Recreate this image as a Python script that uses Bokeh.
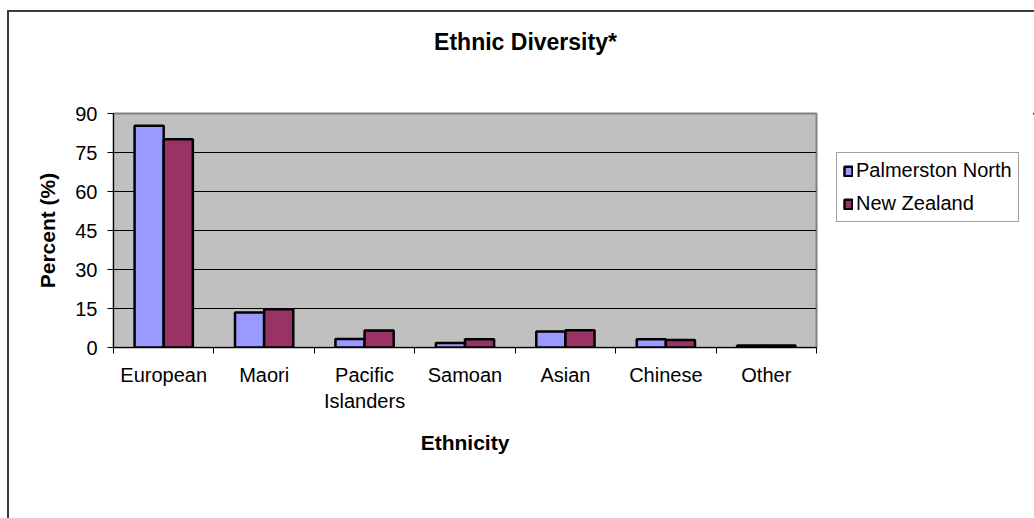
from bokeh.plotting import figure
from bokeh.layouts import column, row
from bokeh.models import (Range1d, FixedTicker, Legend, LegendItem, Label,
                          ColumnDataSource)
from bokeh.embed import file_html
from bokeh.resources import INLINE

# Census shares by ethnic group (percent of population)
categories = ["European", "Maori", "Pacific\nIslanders", "Samoan", "Asian", "Chinese", "Other"]
palmerston_north = [85.3, 13.5, 3.3, 1.7, 6.2, 3.2, 0.8]
new_zealand = [80.1, 14.7, 6.5, 3.2, 6.6, 2.9, 0.8]
y_ticks = [0, 15, 30, 45, 60, 75, 90]

FONT = "Liberation Sans"
BAR_W = 0.29
PN_COLOR, NZ_COLOR = "#9999FF", "#993366"

# canvas geometry (px)
TOTAL_W = 1025
TITLE_H = 89
CHART_W, CHART_H = 826, 417
LEFT, TOP, BOTTOM, PLOT_W = 104, 12, 171, 703

n = len(categories)
centers = [i + 0.5 for i in range(n)]
src = ColumnDataSource(dict(
    x_pn=[c - BAR_W / 2 for c in centers],
    x_nz=[c + BAR_W / 2 for c in centers],
    pn=palmerston_north,
    nz=new_zealand,
))
bar_style = dict(width=BAR_W, source=src, line_color="black", line_width=2.5)

# ---- title strip -------------------------------------------------------
tf = figure(width=TOTAL_W, height=TITLE_H, output_backend="svg", toolbar_location=None,
            x_range=Range1d(0, TOTAL_W), y_range=Range1d(0, TITLE_H),
            x_axis_type=None, y_axis_type=None, min_border=0)
tf.outline_line_color = None
tf.add_layout(Label(x=516, y=60, text="Ethnic Diversity*",
                    text_align="center", text_baseline="alphabetic",
                    text_font=FONT, text_font_size="23px", text_font_style="bold",
                    text_color="black"))

# ---- bar chart ---------------------------------------------------------
p = figure(width=CHART_W, height=CHART_H, output_backend="svg", toolbar_location=None,
           x_range=Range1d(0, n), y_range=Range1d(y_ticks[0], y_ticks[-1]),
           min_border_left=LEFT, min_border_right=CHART_W - LEFT - PLOT_W,
           min_border_top=TOP, min_border_bottom=BOTTOM)
p.background_fill_color = "#C0C0C0"
p.border_fill_color = "white"
p.outline_line_color = "#808080"
p.outline_line_width = 2

r_pn = p.vbar(x="x_pn", top="pn", fill_color=PN_COLOR, **bar_style)
r_nz = p.vbar(x="x_nz", top="nz", fill_color=NZ_COLOR, **bar_style)

# x axis: labels at group centres, tick marks at group boundaries
xa = p.xaxis[0]
xa.ticker = FixedTicker(ticks=centers, minor_ticks=list(range(n + 1)))
xa.major_label_overrides = {c: lab for c, lab in zip(centers, categories)}
xa.major_tick_out = 0
xa.major_tick_in = 0
xa.minor_tick_out = 6
xa.minor_tick_in = 0
xa.minor_tick_line_color = "black"
xa.axis_line_color = "black"
xa.major_label_standoff = 10
xa.major_label_text_font = FONT
xa.major_label_text_font_size = "20px"
xa.major_label_text_color = "black"
xa.axis_label = "Ethnicity"
xa.axis_label_text_font = FONT
xa.axis_label_text_font_size = "21px"
xa.axis_label_text_font_style = "bold"
xa.axis_label_text_color = "black"
xa.axis_label_standoff = 16

ya = p.yaxis[0]
ya.ticker = FixedTicker(ticks=y_ticks, minor_ticks=[])
ya.major_tick_out = 6
ya.major_tick_in = 0
ya.major_tick_line_color = "black"
ya.axis_line_color = "black"
ya.major_label_standoff = 10
ya.major_label_text_font = FONT
ya.major_label_text_font_size = "20px"
ya.major_label_text_color = "black"
ya.axis_label = "Percent (%)"
ya.axis_label_text_font = FONT
ya.axis_label_text_font_size = "21px"
ya.axis_label_text_font_style = "bold"
ya.axis_label_text_color = "black"
ya.axis_label_standoff = 13

p.xgrid.visible = False
p.ygrid.ticker = FixedTicker(ticks=y_ticks[1:-1])
p.ygrid.grid_line_color = "black"
p.ygrid.grid_line_width = 1

# ---- legend panel ------------------------------------------------------
# the same series, kept outside the visible ranges, give the legend its swatches
lf = figure(width=TOTAL_W - CHART_W, height=CHART_H, output_backend="svg",
            toolbar_location=None, x_range=Range1d(-100, -99), y_range=Range1d(-2, -1),
            x_axis_type=None, y_axis_type=None,
            min_border_left=0, min_border_right=0,
            min_border_top=TOP, min_border_bottom=BOTTOM)
lf.outline_line_color = None
l_pn = lf.vbar(x="x_pn", top="pn", fill_color=PN_COLOR, **bar_style)
l_nz = lf.vbar(x="x_nz", top="nz", fill_color=NZ_COLOR, **bar_style)

legend = Legend(items=[LegendItem(label="Palmerston North", renderers=[l_pn]),
                       LegendItem(label="New Zealand", renderers=[l_nz])],
                location=(1, 125), orientation="vertical",
                label_text_font=FONT, label_text_font_size="20px",
                label_text_color="black",
                glyph_width=10, glyph_height=12, label_standoff=3,
                padding=6, spacing=10, margin=0,
                border_line_color="#404040", border_line_width=1,
                background_fill_color="white", background_fill_alpha=1)
lf.add_layout(legend, "center")

layout = column(tf, row(p, lf, spacing=0), spacing=0)
layout.styles = {"margin-left": "7px", "margin-top": "10px",
                 "border-left": "2px solid #3a3a3a", "border-top": "2px solid #3a3a3a"}

open("out.html", "w").write(file_html(layout, INLINE))
